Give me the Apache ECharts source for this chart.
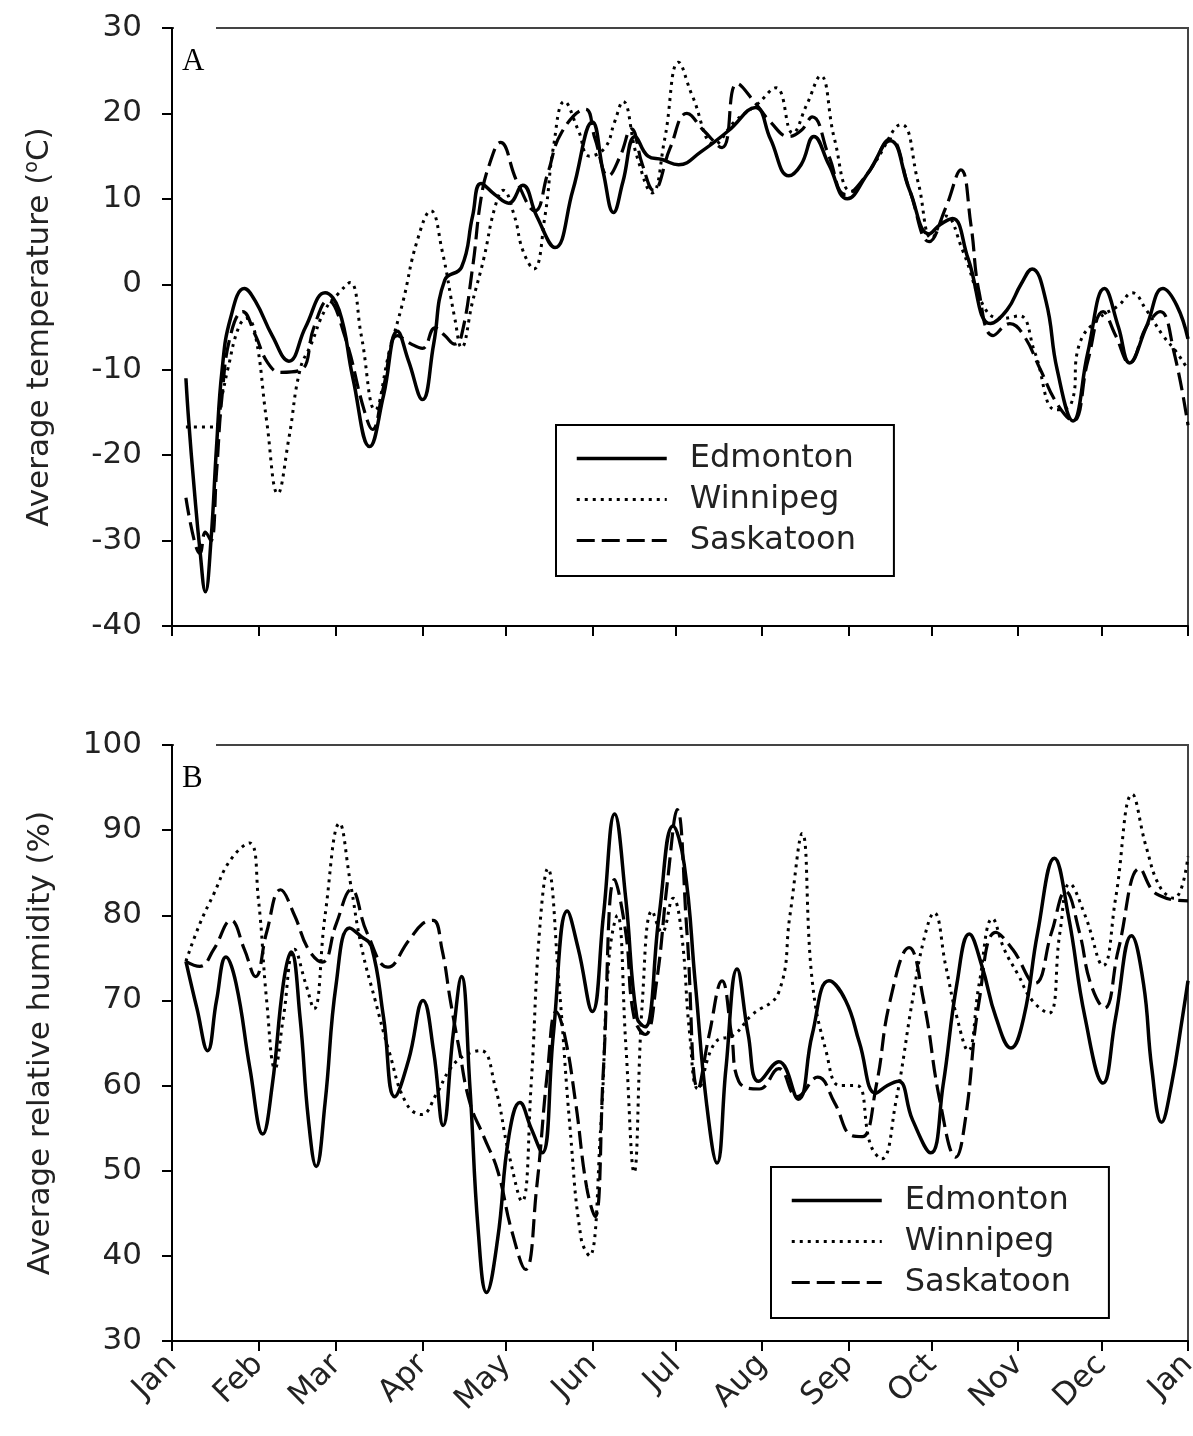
<!DOCTYPE html>
<html>
<head>
<meta charset="utf-8">
<script src="https://cdn.jsdelivr.net/npm/echarts@6/dist/echarts.min.js"></script>
<style>
  html, body { margin: 0; padding: 0; background: #fff; }
  #chart { width: 1193px; height: 1436px; }
</style>
</head>
<body>
<div id="chart"></div>
<script>
// month starts (day of year) and their labels
const monthDays = [0, 31, 59, 90, 120, 151, 181, 212, 243, 273, 304, 334, 365];
const monthNames = ['Jan', 'Feb', 'Mar', 'Apr', 'May', 'Jun', 'Jul', 'Aug', 'Sep', 'Oct', 'Nov', 'Dec', 'Jan'];
const cities = ['Edmonton', 'Winnipeg', 'Saskatoon'];

// panel A: average temperature, [day, degC]
const tempEdmonton = [[5,-11],[6,-16],[8,-24],[10,-31],[12,-36],[14,-30],[16,-19],[18,-10],[21,-4],[26,-0.5],[30,-2],[36,-6],[42,-9],[48,-5],[55,-1],[60,-3],[65,-11],[71,-19],[76,-13],[81,-5.5],[85,-9],[90,-13.5],[94,-7],[98,0.5],[104,2],[108,8],[111,11.8],[116,10.5],[121,9.5],[126,11.6],[131,8],[137.6,4.3],[144,11],[151,19],[155,13],[158.6,8.4],[162,12],[166.4,17.3],[171,15],[176,14.6],[182,14],[190,15.5],[200,18],[209.6,20.7],[215,17],[221.6,12.7],[226,14],[230.6,17.3],[236,14],[242.6,10],[250,13],[258,16.8],[265,11],[272,5.9],[276,7],[280.4,7.7],[286,3],[294,-4.6],[300,-3],[305,0],[309,1.8],[314,-2],[318,-10],[323.7,-16],[329,-8],[335,-0.5],[340,-5],[344,-9.2],[350,-5],[356,-0.5],[361,-2.5],[365,-6.4]];
const tempWinnipeg = [[5,-16.7],[15,-16.7],[18,-13],[20,-10],[24,-5],[27,-4],[30,-6],[34,-16],[38,-24.5],[42,-18],[46,-10],[50,-7],[55,-3],[60,-1],[64,0.2],[68,-6],[73,-14.7],[78,-8],[83,-2],[88,5],[93,8.6],[97,4],[101.6,-4],[104,-7.4],[108,-2],[112,3],[116,9],[119,11],[123,8],[126,4],[130,1.8],[134,8],[137,16],[141,21.4],[146,18],[150,15],[155.6,16],[159,19],[162,21.4],[167,15],[172.5,10.7],[177,17],[182,26],[187,22],[195,16.4],[202,19],[210,21],[217,23],[223,17.7],[228,21],[233,24.4],[238,17],[244,10.9],[252,14],[262,18.7],[268,12],[273,5.4],[278,8],[284,4],[292,-2.8],[298,-4],[304.5,-3.7],[310,-8],[317.6,-14.7],[323,-14],[326,-7],[333,-4],[340,-2.5],[345,-1],[350,-3],[356,-6],[361,-8],[365,-10]];
const tempSaskatoon = [[5,-25],[8,-30],[10,-31.5],[12,-29],[14,-30],[16,-22],[18,-13],[21,-6],[25.4,-3.2],[30,-6],[34.4,-9.2],[39,-10.3],[46.4,-10],[51,-5],[56,-1.9],[62,-6],[69,-14.7],[72,-17],[76,-12],[81,-6],[86,-7],[90,-7.5],[94.5,-5.1],[98,-6],[101.6,-7],[104,-6],[108,2],[111,10],[114,14],[118,16.6],[124,12],[130.4,8.6],[135,13],[140,17.8],[148.5,20.5],[152,17],[156.8,12.7],[161,15],[165,18.2],[169,14],[173,11],[179,16],[185,20],[191,18],[197.6,16],[203,23.5],[209.6,21.2],[215,19],[221.6,17.3],[226,18],[230,19.6],[236,15],[242,10.5],[250,13],[258,17],[265,11],[272,5],[278,9],[283.4,13.4],[287,7],[290,-1],[295,-6],[301,-4.6],[306,-6],[312,-10],[318,-14],[323.7,-16],[329,-9],[334.5,-3.2],[339,-6],[344,-9.2],[350,-5],[355,-3.2],[360,-8],[365,-16.5]];

// panel B: average relative humidity, [day, %]
const rhEdmonton = [[5,74.6],[9,69],[12.8,64.1],[16,70],[19.4,75.1],[23,72],[28,62],[32.6,54.3],[36,60],[40,72],[42.8,75.7],[46,68],[49,56],[51.8,50.5],[55,58],[59,72],[63.8,78.5],[68,77.5],[71.6,76.4],[76,68],[80,58.7],[85,63],[90.2,70],[94,64],[97.4,55.3],[101,66],[104,72.8],[107,60],[110,43],[113,35.7],[117,42],[121,54],[125,58],[129,55],[133,52.1],[137,66],[142,80.5],[146,76],[151,68.7],[155,80],[159,91.9],[163,82],[167,68],[170,66.9],[175,80],[180,90.5],[184,86],[188,72],[192,58],[195.8,50.9],[199,62],[203,73.7],[207,66],[210.8,60.5],[218,62.8],[225,58.4],[230,66],[236,72.3],[242,70],[247,65],[252.8,59.1],[257,60],[261,60.5],[266,56],[272.6,52.1],[277,60],[282,72],[286.4,77.8],[291,74],[296,68],[301.4,64.4],[306,68],[311,78],[317,86.7],[322,80],[328,68],[334.5,60.3],[339,68],[344.7,77.6],[349,72],[352,62],[355.5,55.7],[359,60],[363,68],[365,72.3]];
const rhWinnipeg = [[5,74.6],[10,79],[15,82.5],[21,86.5],[27.8,88.5],[31,82],[34,70],[37,62],[40,68],[44,76],[48,72],[51,69],[55,80],[60.2,90.8],[64,84],[68,76.4],[73,70],[78,64],[84,58],[89.6,56.6],[95,59],[100,62],[105,63.5],[111,64.1],[116,60],[121,52],[125.7,46.4],[129,60],[132,78],[135,85.5],[139,72],[143,55],[147,42],[150,40],[154,55],[157,75],[160,80],[163,65],[166,49.8],[169,70],[172.5,80.5],[176,78],[180,82],[183,78],[186,66],[189,59.6],[195,65],[202,66],[208,68.2],[218,71],[222,80],[226.4,89.6],[230,72.3],[235,64],[240,60],[246,60],[251,53],[255,51.4],[260,58],[266,70],[270,77],[273.8,80.3],[278,74],[282,68],[286,64.1],[290,72],[294.8,79.6],[299,76],[304,73],[309,70],[315,68.5],[319,78],[322.5,83.7],[328,80],[334.5,74.1],[339,82],[345,94.2],[350,88],[355,83.3],[360,82],[365,86.9]];
const rhSaskatoon = [[5,74.6],[10,74],[15,76],[21.2,79.4],[26,76],[30,72.8],[34,78],[39,83],[44,80],[49,76],[54,74.5],[59,79],[64.4,83],[70,78],[77.6,73.9],[85,77],[90,79],[93.8,79.4],[97,76],[100,70],[103,64.6],[107,58],[112,54],[117,50],[122,43],[127,38.4],[131,48],[135,62],[138,68.7],[141,66],[145,58],[149,48],[152,44.6],[155,62],[159,84.2],[163,78],[166,68],[170,66],[174,72],[178,84],[181.5,92.4],[185,78],[189,59.6],[193,66],[197.6,72.3],[201,66],[203.6,60.5],[211,59.6],[218,62],[224.6,58.7],[232,61],[238,58],[244.4,54.1],[248,54],[253,60],[258,70],[264.8,76.2],[270,70],[276,58],[281.6,51.6],[285,56],[290,70],[296,78],[302,76],[310,72],[316,78],[321,82.8],[326,78],[330,72],[335,69.1],[340,76],[347.7,85.5],[352,83],[355,82.3],[360,81.8],[365,81.7]];

const FONT = 'DejaVu Sans';
// line looks: solid / dotted / long dash
const lineLooks = [
    {type: 'solid', width: 3.5},
    {type: [3, 5], width: 3},
    {type: [18, 7], width: 3.2}
];

let chart = echarts.init(document.getElementById('chart'));

const xAxisBase = (showLabels) => ({
    type: 'value', min: 0, max: 365,
    axisLine: {onZero: false, lineStyle: {color: '#000', width: 2}},
    axisTick: {show: true, inside: false, length: 10, customValues: monthDays, lineStyle: {color: '#000', width: 2}},
    axisLabel: {
        show: showLabels,
        customValues: monthDays,
        rotate: 45,
        margin: 19,
        fontFamily: FONT, fontSize: 31, color: '#222',
        formatter: v => monthNames[monthDays.indexOf(v)]
    },
    splitLine: {show: false}
});

const yAxisBase = (min, max, name) => ({
    type: 'value', min, max, interval: 10,
    name,
    nameLocation: 'middle',
    nameGap: 116,
    nameTextStyle: {
        fontFamily: FONT, fontSize: 31, color: '#222',
        rich: {sup: {fontFamily: FONT, fontSize: 19, color: '#222', verticalAlign: 'top', padding: [0, 0, 14, 0]}}
    },
    axisLine: {show: true, lineStyle: {color: '#000', width: 2}},
    axisTick: {show: true, inside: false, length: 10, lineStyle: {color: '#000', width: 2}},
    axisLabel: {margin: 30, fontFamily: FONT, fontSize: 31, color: '#222'},
    splitLine: {show: false}
});

// legend entries carry their own line look so the samples match the plot
const legendItems = cities.map((c, i) => ({
    name: c,
    itemStyle: {opacity: 0},
    lineStyle: {color: '#000', width: lineLooks[i].width, type: lineLooks[i].type}
}));

const legendBase = (left, top) => ({
    data: legendItems,
    orient: 'vertical',
    left, top,
    backgroundColor: '#fff',
    borderColor: '#000', borderWidth: 2, borderRadius: 0,
    padding: [16, 38, 18, 19],
    itemWidth: 90, itemHeight: 12, itemGap: 6,
    selectedMode: false,
    itemStyle: {opacity: 0},
    textStyle: {fontFamily: FONT, fontSize: 32, color: '#222', lineHeight: 35, padding: [0, 0, 0, 18]}
});

const makeSeries = (data, look, idx, name) => ({
    name,
    type: 'line',
    xAxisIndex: idx, yAxisIndex: idx,
    data,
    smooth: 0.45,
    symbol: 'none',
    showSymbol: false,
    silent: true,
    animation: false,
    lineStyle: {color: '#000', width: look.width, type: look.type},
    itemStyle: {color: '#000'}
});

const tempSets = [tempEdmonton, tempWinnipeg, tempSaskatoon];
const rhSets = [rhEdmonton, rhWinnipeg, rhSaskatoon];

let series = [];
cities.forEach((c, i) => series.push(makeSeries(tempSets[i], lineLooks[i], 0, c)));
cities.forEach((c, i) => series.push(makeSeries(rhSets[i], lineLooks[i], 1, c)));

// panel letter in a white box over the frame corner
const panelTag = (txt, y) => ({
    type: 'group', left: 174, top: y, z: 100,
    children: [
        {type: 'rect', shape: {x: 0, y: 0, width: 42, height: 52}, style: {fill: '#fff'}},
        {type: 'text', x: 8, y: 20, style: {text: txt, fontFamily: 'Liberation Serif', fontSize: 31, fill: '#000'}}
    ]
});

let option = {
    backgroundColor: '#fff',
    animation: false,
    grid: [
        {left: 172, right: 5, top: 28, height: 598, show: true, borderColor: '#444', borderWidth: 2,
            backgroundColor: 'transparent', outerBoundsMode: 'none', containLabel: false},
        {left: 172, right: 5, top: 745, height: 596, show: true, borderColor: '#444', borderWidth: 2,
            backgroundColor: 'transparent', outerBoundsMode: 'none', containLabel: false}
    ],
    xAxis: [
        Object.assign(xAxisBase(false), {gridIndex: 0}),
        Object.assign(xAxisBase(true), {gridIndex: 1})
    ],
    yAxis: [
        Object.assign(yAxisBase(-40, 30, 'Average temperature ({sup|o}C)'), {gridIndex: 0}),
        Object.assign(yAxisBase(30, 100, 'Average relative humidity (%)'), {gridIndex: 1})
    ],
    legend: [legendBase(556, 425), legendBase(771, 1167)],
    graphic: [panelTag('A', 26), panelTag('B', 743)],
    series
};
chart.setOption(option);
</script>
</body>
</html>
